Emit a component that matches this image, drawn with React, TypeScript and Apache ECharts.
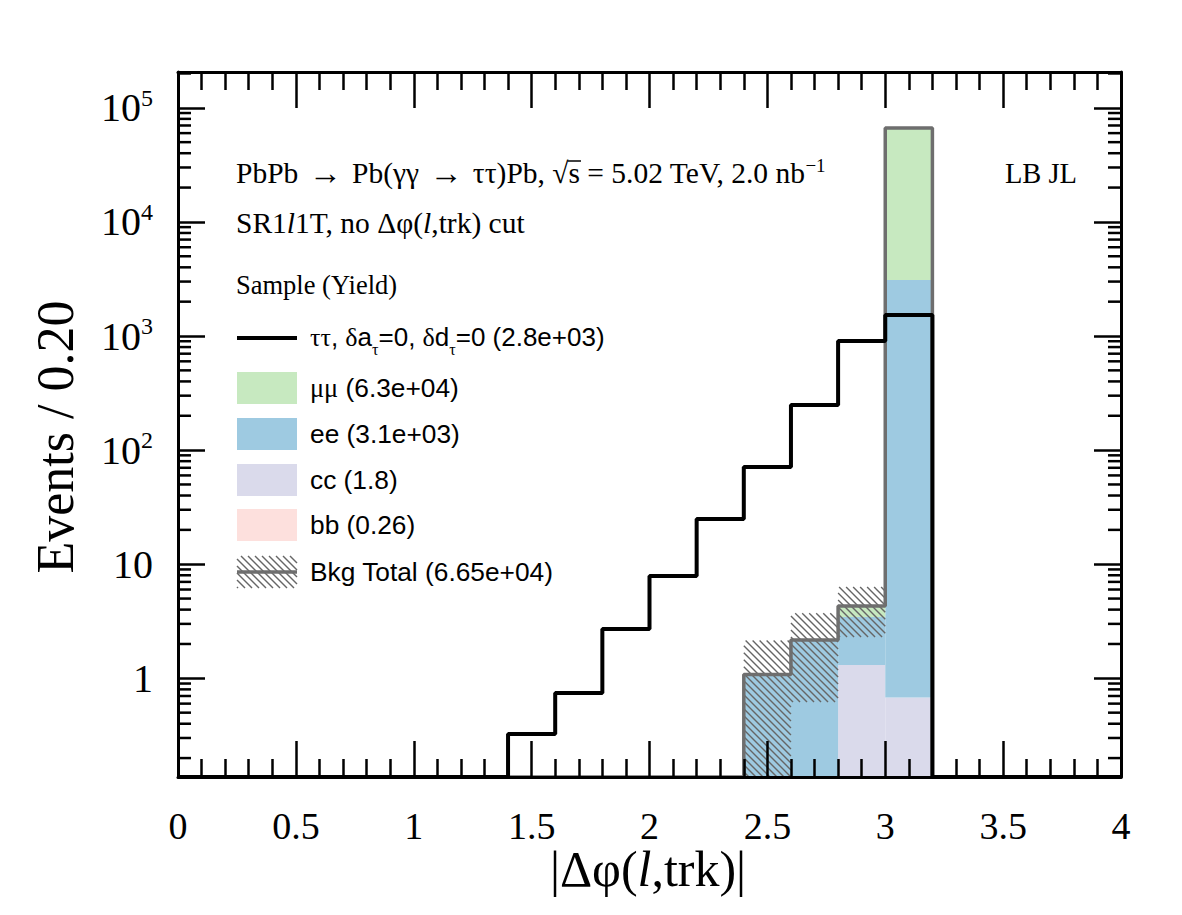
import React, { useEffect, useRef } from 'react';
import * as echarts from 'echarts';

// ---------------- data ----------------
const binLow = [0, 0.2, 0.4, 0.6, 0.8, 1.0, 1.2, 1.4, 1.6, 1.8, 2.0, 2.2, 2.4, 2.6, 2.8, 3.0, 3.2, 3.4, 3.6, 3.8];
const BIN_W = 0.2;
const X_MAX = 4;

const signalTauTau = [0, 0, 0, 0, 0, 0, 0, 0.325, 0.743, 2.7, 7.89, 24.9, 71.1, 248, 904, 1528, 0, 0, 0, 0];
const bkgBB = [0, 0, 0, 0, 0, 0, 0, 0, 0, 0, 0, 0, 0, 0, 0.13, 0.13, 0, 0, 0, 0];
const bkgCC = [0, 0, 0, 0, 0, 0, 0, 0, 0, 0, 0, 0, 0, 0, 1.18, 0.55, 0, 0, 0, 0];
const bkgEE = [0, 0, 0, 0, 0, 0, 0, 0, 0, 0, 0, 0, 1.08, 2.17, 2.13, 3096, 0, 0, 0, 0];
const bkgMuMu = [0, 0, 0, 0, 0, 0, 0, 0, 0, 0, 0, 0, 0, 0, 0.86, 63400, 0, 0, 0, 0];
const bkgTotalErr = [0, 0, 0, 0, 0, 0, 0, 0, 0, 0, 0, 0, 1.06, 1.55, 2.0, 260, 0, 0, 0, 0];

const stackNames = ['bb', 'cc', 'ee', 'μμ'];
const stackValues = [bkgBB, bkgCC, bkgEE, bkgMuMu];
const stackColors = ['#fde0dd', '#dadaeb', '#9ecae1', '#c7e9c0'];

const xTickValues = [0, 0.5, 1, 1.5, 2, 2.5, 3, 3.5, 4];
const xTickLabels = ['0', '0.5', '1', '1.5', '2', '2.5', '3', '3.5', '4'];
const yDecades = [0, 1, 2, 3, 4, 5];
const yTickLabels = ['1', '10', '10{sup|2}', '10{sup|3}', '10{sup|4}', '10{sup|5}'];
const yMinorMultipliers = [2, 3, 4, 5, 6, 7, 8, 9];
const yMinorDecades = [-1, 0, 1, 2, 3, 4, 5];

const YMIN = 0.1365;
const YMAX = 2.06e5;

const SERIF = "'Liberation Serif', 'Times New Roman', Times, serif";
const SANS = "'Liberation Sans', Arial, Helvetica, sans-serif";

const HATCH_COLOR = '#666666';
const TOTAL_COLOR = '#6e6e6e';

const HEADER_SIZE = 29.5;
const ARROW_SIZE = 33;
const ARROW_PAD = 3;

function hatchLines(L: number, T: number, R: number, B: number, step: number) {
  const out: any[] = [];
  const cStart = Math.floor((T - R) / step) * step;
  for (let c = cStart; c <= B - L; c += step) {
    const xa = Math.max(L, T - c);
    const xb = Math.min(R, B - c);
    if (xb > xa) {
      out.push({
        type: 'line',
        shape: { x1: xa, y1: xa + c, x2: xb, y2: xb + c },
        style: { stroke: HATCH_COLOR, lineWidth: 1.4 },
      });
    }
  }
  return out;
}

function measure(text: string, font: string) {
  const c = document.createElement('canvas');
  const ctx = c.getContext('2d');
  if (!ctx) return text.length * 10;
  ctx.font = font;
  return ctx.measureText(text).width;
}

export default function App() {
  const ref = useRef<HTMLDivElement>(null);

  useEffect(() => {
    if (!ref.current) return;
    const chart = echarts.init(ref.current, null, { renderer: 'svg' });

    const nb = binLow.length;
    const clampY = (v: number) => Math.max(v, YMIN);

    // stacked background rectangles
    const stackSeries: any[] = [];
    const cum = new Array(nb).fill(0);
    stackValues.forEach((vals, k) => {
      const data: any[] = [];
      for (let i = 0; i < nb; i++) {
        const lo = cum[i];
        const hi = cum[i] + vals[i];
        cum[i] = hi;
        data.push([binLow[i], binLow[i] + BIN_W, clampY(lo), clampY(hi)]);
      }
      const color = stackColors[k];
      stackSeries.push({
        type: 'custom',
        name: stackNames[k],
        z: 2,
        clip: false,
        encode: { x: [0, 1], y: [2, 3] },
        data,
        renderItem: (params: any, api: any) => {
          const x0 = api.value(0), x1 = api.value(1), y0 = api.value(2), y1 = api.value(3);
          if (!(y1 > y0)) return null;
          const p0 = api.coord([x0, y0]);
          const p1 = api.coord([x1, y1]);
          return {
            type: 'rect',
            shape: { x: p0[0], y: p1[1], width: p1[0] - p0[0], height: p0[1] - p1[1] },
            style: { fill: color },
          };
        },
      });
    });
    const totals = cum.slice();

    // hatched uncertainty band
    const errData: any[] = [];
    for (let i = 0; i < nb; i++) {
      if (bkgTotalErr[i] > 0) {
        errData.push([binLow[i], binLow[i] + BIN_W, clampY(totals[i] - bkgTotalErr[i]), clampY(totals[i] + bkgTotalErr[i])]);
      }
    }
    const hatchSeries = {
      type: 'custom',
      name: 'err',
      z: 3,
      clip: false,
      encode: { x: [0, 1], y: [2, 3] },
      data: errData,
      renderItem: (params: any, api: any) => {
        const p0 = api.coord([api.value(0), api.value(2)]);
        const p1 = api.coord([api.value(1), api.value(3)]);
        return { type: 'group', children: hatchLines(p0[0], p1[1], p1[0], p0[1], 7) };
      },
    };

    const stepData = (vals: number[]) => {
      const d: any[] = [];
      for (let i = 0; i < nb; i++) d.push([binLow[i], clampY(vals[i])]);
      d.push([X_MAX, clampY(vals[nb - 1])]);
      return d;
    };

    const totalSeries = {
      type: 'line',
      name: 'Bkg Total',
      step: 'end',
      symbol: 'none',
      clip: false,
      z: 4,
      data: stepData(totals),
      lineStyle: { color: TOTAL_COLOR, width: 3.5 },
    };
    const signalSeries = {
      type: 'line',
      name: 'ττ',
      step: 'end',
      symbol: 'none',
      clip: false,
      z: 5,
      data: stepData(signalTauTau),
      lineStyle: { color: '#000', width: 4 },
    };

    // minor log ticks (left and right)
    const minorData: any[] = [];
    yMinorDecades.forEach((d) => {
      yMinorMultipliers.forEach((m) => {
        const v = m * Math.pow(10, d);
        if (v > YMIN && v < YMAX) minorData.push([0, v]);
      });
    });
    const minorTickSeries = {
      type: 'custom',
      name: 'minorTicks',
      z: 10,
      clip: false,
      encode: { x: 0, y: 1 },
      data: minorData,
      renderItem: (params: any, api: any) => {
        const pl = api.coord([0, api.value(1)]);
        const pr = api.coord([X_MAX, api.value(1)]);
        const st = { stroke: '#000', lineWidth: 2.5 };
        return {
          type: 'group',
          children: [
            { type: 'line', shape: { x1: pl[0], y1: pl[1], x2: pl[0] + 13, y2: pl[1] }, style: st },
            { type: 'line', shape: { x1: pr[0] - 13, y1: pr[1], x2: pr[0], y2: pr[1] }, style: st },
          ],
        };
      },
    };

    const xAxisBase = {
      type: 'value',
      min: 0,
      max: X_MAX,
      interval: 0.5,
      z: 10,
      axisLine: { show: true, onZero: false, lineStyle: { color: '#000', width: 3 } },
      axisTick: { show: true, inside: true, length: 36, lineStyle: { color: '#000', width: 2.5 } },
      minorTick: { show: true, splitNumber: 5, length: 18, lineStyle: { color: '#000', width: 2.5 } },
      splitLine: { show: false },
      minorSplitLine: { show: false },
    };
    const yAxisBase = {
      type: 'log',
      logBase: 10,
      min: YMIN,
      max: YMAX,
      z: 10,
      axisLine: { show: true, onZero: false, lineStyle: { color: '#000', width: 3 } },
      axisTick: { show: true, inside: true, length: 27, lineStyle: { color: '#000', width: 2.5 } },
      minorTick: { show: false },
      splitLine: { show: false },
      minorSplitLine: { show: false },
    };

    // legend graphics
    const legendX = 237, legendW = 60, legendH = 32, textX = 310;
    const legendGraphics: any[] = [];
    legendGraphics.push({
      type: 'text', x: 236, y: 285,
      style: { text: 'Sample (Yield)', font: `26.5px ${SERIF}`, fill: '#000', align: 'left', verticalAlign: 'middle' },
    });
    legendGraphics.push({
      type: 'line', shape: { x1: legendX, y1: 338, x2: legendX + legendW, y2: 338 },
      style: { stroke: '#000', lineWidth: 4 },
    });
    legendGraphics.push({
      type: 'text', x: textX, y: 337,
      style: {
        text: '{g|ττ}, {g|δ}a{sub|τ}=0, {g|δ}d{sub|τ}=0 (2.8e+03)',
        fontSize: 26, fontFamily: SANS, fill: '#000', align: 'left', verticalAlign: 'middle', lineHeight: 40,
        rich: {
          g: { fontSize: 26, fontFamily: SERIF, fill: '#000', lineHeight: 40 },
          sub: { fontSize: 16, fontFamily: SERIF, fill: '#000', verticalAlign: 'bottom', lineHeight: 16 },
        },
      },
    });
    const boxTops = [509, 464, 418, 372]; // bb, cc, ee, mumu
    const yieldText = ['bb (0.26)', 'cc (1.8)', 'ee (3.1e+03)', '{g|μμ} (6.3e+04)'];
    for (let k = 3; k >= 0; k--) {
      legendGraphics.push({
        type: 'rect', shape: { x: legendX, y: boxTops[k], width: legendW, height: legendH },
        style: { fill: stackColors[k] },
      });
      legendGraphics.push({
        type: 'text', x: textX, y: boxTops[k] + legendH / 2,
        style: {
          text: yieldText[k], fontSize: 26.3, fontFamily: SANS, fill: '#000', align: 'left', verticalAlign: 'middle',
          rich: { g: { fontSize: 26.3, fontFamily: SERIF, fill: '#000' } },
        },
      });
    }
    const bTop = 556;
    hatchLines(legendX, bTop, legendX + legendW, bTop + legendH, 7).forEach((l) => legendGraphics.push(l));
    legendGraphics.push({
      type: 'line', shape: { x1: legendX, y1: bTop + legendH / 2, x2: legendX + legendW, y2: bTop + legendH / 2 },
      style: { stroke: TOTAL_COLOR, lineWidth: 3.5 },
    });
    legendGraphics.push({
      type: 'text', x: textX, y: bTop + legendH / 2,
      style: { text: 'Bkg Total (6.65e+04)', font: `26.3px ${SANS}`, fill: '#000', align: 'left', verticalAlign: 'middle' },
    });

    // header, with overline over the "s" of sqrt(s)
    const headerX = 236, headerY = 173;
    const hFont = `${HEADER_SIZE}px 'Liberation Serif'`;
    const aFont = `${ARROW_SIZE}px 'Liberation Serif'`;
    const prefixW =
      measure('PbPb  Pb(γγ  ττ)Pb, √', hFont) + 2 * measure('→', aFont) + 4 * ARROW_PAD;
    const sW = measure('s', hFont);
    const overY = headerY - 12;

    const textGraphics: any[] = [
      {
        type: 'text', x: headerX, y: headerY,
        style: {
          text: 'PbPb {ar|→} Pb(γγ {ar|→} ττ)Pb, √s = 5.02 TeV, 2.0 nb{sup|−1}',
          fontSize: HEADER_SIZE, fontFamily: SERIF, fill: '#000', align: 'left', verticalAlign: 'middle', lineHeight: 34,
          rich: {
            ar: { fontSize: ARROW_SIZE, fontFamily: SERIF, fill: '#000', padding: [0, ARROW_PAD, 0, ARROW_PAD], lineHeight: 34 },
            sup: { fontSize: 19, fontFamily: SERIF, fill: '#000', verticalAlign: 'top', lineHeight: 19 },
          },
        },
      },
      {
        type: 'line',
        shape: { x1: headerX + prefixW - 1, y1: overY, x2: headerX + prefixW + sW + 1, y2: overY },
        style: { stroke: '#000', lineWidth: 1.5 },
      },
      {
        type: 'text', x: 236, y: 223,
        style: {
          text: 'SR1{it|l}1T, no Δφ({it|l},trk) cut',
          fontSize: HEADER_SIZE, fontFamily: SERIF, fill: '#000', align: 'left', verticalAlign: 'middle',
          rich: { it: { fontSize: HEADER_SIZE, fontFamily: SERIF, fontStyle: 'italic', fill: '#000' } },
        },
      },
      {
        type: 'text', x: 1077, y: 173,
        style: { text: 'LB JL', font: `28.5px ${SERIF}`, fill: '#000', align: 'right', verticalAlign: 'middle' },
      },
      {
        type: 'text', x: 55, y: 437, rotation: Math.PI / 2,
        style: { text: 'Events / 0.20', font: `52px ${SERIF}`, fill: '#000', align: 'center', verticalAlign: 'middle' },
      },
      {
        type: 'text', x: 648, y: 869,
        style: {
          text: '|Δφ({it|l},trk)|',
          fontSize: 50, fontFamily: SERIF, fill: '#000', align: 'center', verticalAlign: 'middle',
          rich: { it: { fontSize: 50, fontFamily: SERIF, fontStyle: 'italic', fill: '#000' } },
        },
      },
    ];

    const option: any = {
      animation: false,
      backgroundColor: '#ffffff',
      grid: { left: 178, right: 61, top: 72, bottom: 138, containLabel: false, outerBoundsMode: 'none', show: false },
      xAxis: [
        {
          ...xAxisBase,
          position: 'bottom',
          axisLabel: {
            show: true, margin: 30, color: '#000', fontSize: 38, fontFamily: SERIF,
            formatter: (v: number) => {
              const idx = xTickValues.findIndex((t) => Math.abs(t - v) < 1e-6);
              return idx >= 0 ? xTickLabels[idx] : '';
            },
          },
        },
        { ...xAxisBase, position: 'top', axisLabel: { show: false } },
      ],
      yAxis: [
        {
          ...yAxisBase,
          position: 'left',
          axisLabel: {
            show: true, margin: 25, color: '#000', fontSize: 40, fontFamily: SERIF, lineHeight: 44,
            formatter: (v: number) => {
              const lg = Math.log10(v);
              const e = Math.round(lg);
              if (Math.abs(lg - e) > 1e-6) return '';
              const idx = yDecades.indexOf(e);
              return idx >= 0 ? yTickLabels[idx] : '';
            },
            rich: { sup: { fontSize: 24, fontFamily: SERIF, color: '#000', verticalAlign: 'top', lineHeight: 24 } },
          },
        },
        { ...yAxisBase, position: 'right', axisLabel: { show: false } },
      ],
      series: [...stackSeries, hatchSeries, totalSeries, signalSeries, minorTickSeries],
      graphic: { elements: [...legendGraphics, ...textGraphics] },
    };

    chart.setOption(option);
    return () => {
      chart.dispose();
    };
  }, []);

  return (
    <div
      ref={ref}
      style={{ position: 'fixed', left: 0, top: 0, width: 1182, height: 915, background: '#fff' }}
    />
  );
}
